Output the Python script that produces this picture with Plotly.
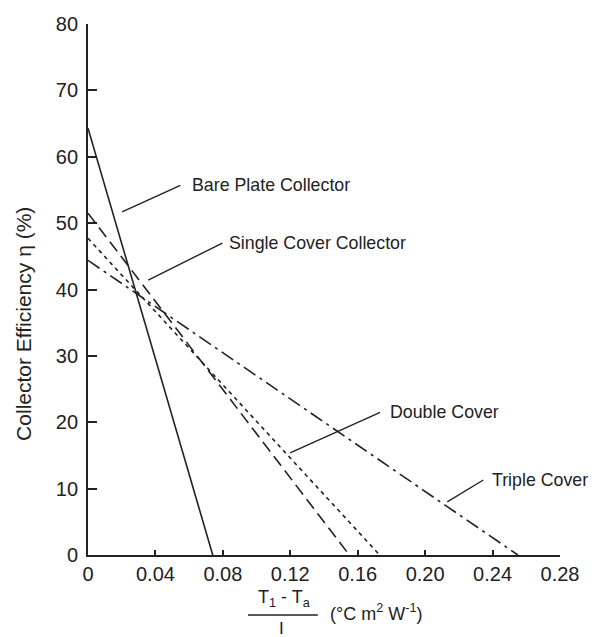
import plotly.graph_objects as go

# Data
series_names = ["Bare Plate Collector", "Single Cover Collector", "Double Cover", "Triple Cover"]
y_intercepts = [64.3, 51.5, 47.7, 44.4]      # efficiency (%) at x = 0
x_intercepts = [0.074, 0.155, 0.173, 0.255]  # (T1-Ta)/I where efficiency reaches 0
dash_styles = ["solid", "12px,6px", "4px,4px", "14px,5px,3px,5px"]

# Label positions and leader lines (data coords)
label_x = [0.0607, 0.0827, 0.178, 0.2387]
label_y = [55.7, 47.0, 21.5, 11.3]
leader_from = [(0.0548, 55.7), (0.0797, 47.0), (0.1733, 21.5), (0.2345, 11.3)]
leader_to = [(0.0202, 51.7), (0.0357, 41.4), (0.1199, 15.4), (0.2131, 8.0)]

x_ticks = [0, 0.04, 0.08, 0.12, 0.16, 0.20, 0.24, 0.28]
x_tick_text = ["0", "0.04", "0.08", "0.12", "0.16", "0.20", "0.24", "0.28"]
y_ticks = [0, 10, 20, 30, 40, 50, 60, 70, 80]

INK = "#222222"
FONT = "Liberation Sans, Arial, sans-serif"

fig = go.Figure()
for name, y0, x0, d in zip(series_names, y_intercepts, x_intercepts, dash_styles):
    fig.add_trace(go.Scatter(x=[0, x0], y=[y0, 0], mode="lines", name=name,
                             line=dict(color=INK, width=1.6, dash=d),
                             showlegend=False, hoverinfo="skip", cliponaxis=False))

for (fx, fy), (tx, ty) in zip(leader_from, leader_to):
    fig.add_trace(go.Scatter(x=[fx, tx], y=[fy, ty], mode="lines",
                             line=dict(color=INK, width=1.4),
                             showlegend=False, hoverinfo="skip"))

for name, lx, ly in zip(series_names, label_x, label_y):
    fig.add_annotation(x=lx, y=ly, text=name, showarrow=False, xanchor="left",
                       yanchor="middle", font=dict(size=17.8, color=INK, family=FONT))

# Y axis title
fig.add_annotation(xref="paper", yref="paper", x=-0.138, y=0.435, text="Collector Efficiency \u03b7 (%)",
                   textangle=-90, showarrow=False, xanchor="center", yanchor="middle",
                   font=dict(size=21, color=INK, family=FONT))

# X axis title as a fraction
fig.add_annotation(xref="paper", yref="paper", x=0.416, y=-0.108, text="T<sub>1</sub> - T<sub>a</sub>",
                   showarrow=False, xanchor="center", yanchor="bottom",
                   font=dict(size=18, color=INK, family=FONT))
fig.add_shape(type="line", xref="paper", yref="paper", x0=0.339, x1=0.487, y0=-0.113, y1=-0.113,
              line=dict(color=INK, width=1.4))
fig.add_annotation(xref="paper", yref="paper", x=0.411, y=-0.116, text="I",
                   showarrow=False, xanchor="center", yanchor="top",
                   font=dict(size=17, color=INK, family=FONT))
fig.add_annotation(xref="paper", yref="paper", x=0.508, y=-0.109,
                   text="(\u00b0C m<sup>2</sup> W<sup>-1</sup>)",
                   showarrow=False, xanchor="left", yanchor="middle",
                   font=dict(size=18, color=INK, family=FONT))

fig.update_layout(
    width=606, height=637,
    margin=dict(l=80, r=54, t=16, b=90, autoexpand=False),
    paper_bgcolor="white", plot_bgcolor="white",
    font=dict(family=FONT, color=INK),
)
fig.update_xaxes(range=[0, 0.28], tickvals=x_ticks, ticktext=x_tick_text, automargin=False,
                 ticks="inside", ticklen=5, tickwidth=1.5, tickcolor=INK,
                 showline=True, linecolor=INK, linewidth=1.8, showgrid=False, zeroline=False,
                 tickfont=dict(size=20, color=INK, family=FONT))
fig.update_yaxes(range=[0, 80], tickvals=y_ticks, automargin=False,
                 ticks="inside", ticklen=9, tickwidth=1.5, tickcolor=INK,
                 showline=True, linecolor=INK, linewidth=1.8, showgrid=False, zeroline=False,
                 tickfont=dict(size=20, color=INK, family=FONT), ticklabelstandoff=4)

fig.write_html("out.html")
